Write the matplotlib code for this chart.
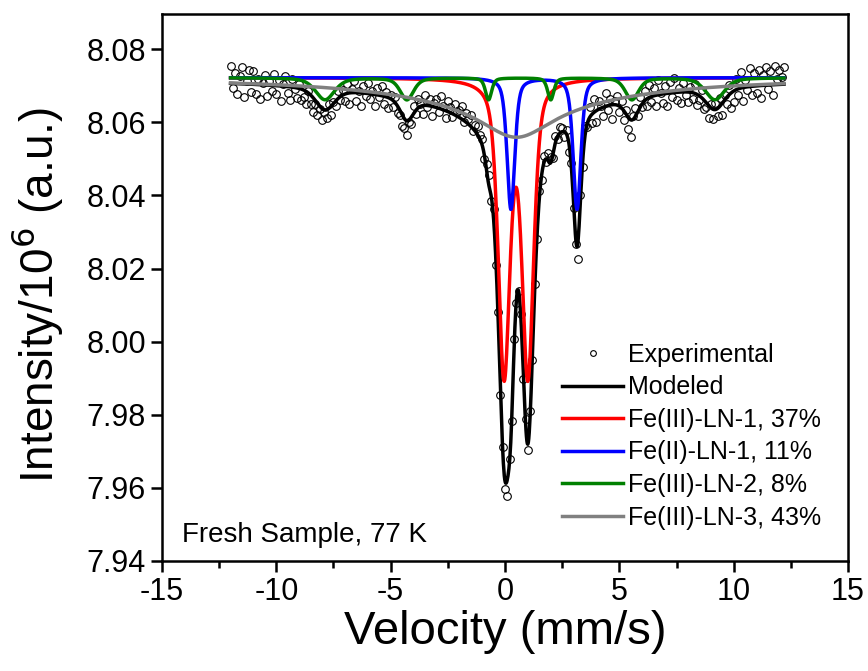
import numpy as np
import matplotlib
matplotlib.use("Agg")
import matplotlib.pyplot as plt

plt.rcParams['font.family'] = ['Liberation Sans', 'DejaVu Sans']
plt.rcParams['axes.unicode_minus'] = False

# experimental spectrum, intensity / 10^6, channels every 0.1 mm/s from -12.0 to 12.2
velocity = np.linspace(-12.0, 12.2, 243)
intensity = [
    8.0754, 8.0694, 8.0736, 8.0677, 8.0727, 8.0750, 8.0670, 8.0714, 8.0744, 8.0684,
    8.0739, 8.0678, 8.0718, 8.0665, 8.0707, 8.0730, 8.0671, 8.0713, 8.0686, 8.0732,
    8.0678, 8.0717, 8.0659, 8.0706, 8.0728, 8.0680, 8.0662, 8.0718, 8.0690, 8.0666,
    8.0705, 8.0661, 8.0670, 8.0650, 8.0686, 8.0650, 8.0628, 8.0649, 8.0620, 8.0637,
    8.0607, 8.0627, 8.0613, 8.0649, 8.0620, 8.0656, 8.0644, 8.0686, 8.0661, 8.0687,
    8.0659, 8.0705, 8.0651, 8.0691, 8.0713, 8.0659, 8.0685, 8.0645, 8.0699, 8.0671,
    8.0707, 8.0663, 8.0685, 8.0644, 8.0693, 8.0669, 8.0698, 8.0651, 8.0682, 8.0639,
    8.0674, 8.0642, 8.0668, 8.0625, 8.0621, 8.0591, 8.0585, 8.0564, 8.0601, 8.0594,
    8.0644, 8.0622, 8.0664, 8.0651, 8.0624, 8.0676, 8.0641, 8.0663, 8.0616, 8.0654,
    8.0665, 8.0627, 8.0671, 8.0644, 8.0612, 8.0657, 8.0641, 8.0615, 8.0650, 8.0629,
    8.0633, 8.0644, 8.0600, 8.0625, 8.0610, 8.0619, 8.0575, 8.0593, 8.0591, 8.0565,
    8.0553, 8.0499, 8.0486, 8.0456, 8.0384, 8.0362, 8.0209, 8.0081, 7.9853, 7.9712,
    7.9598, 7.9577, 7.9680, 7.9784, 8.0006, 8.0106, 8.0139, 8.0076, 7.9898, 7.9788,
    7.9703, 7.9811, 7.9949, 8.0159, 8.0280, 8.0412, 8.0443, 8.0507, 8.0492, 8.0515,
    8.0504, 8.0502, 8.0563, 8.0554, 8.0588, 8.0584, 8.0559, 8.0578, 8.0520, 8.0489,
    8.0365, 8.0266, 8.0225, 8.0402, 8.0478, 8.0589, 8.0588, 8.0643, 8.0597, 8.0663,
    8.0602, 8.0658, 8.0644, 8.0617, 8.0679, 8.0634, 8.0665, 8.0608, 8.0658, 8.0672,
    8.0629, 8.0659, 8.0606, 8.0634, 8.0582, 8.0559, 8.0616, 8.0638, 8.0618, 8.0668,
    8.0641, 8.0686, 8.0644, 8.0703, 8.0655, 8.0694, 8.0644, 8.0715, 8.0681, 8.0652,
    8.0698, 8.0644, 8.0710, 8.0669, 8.0720, 8.0660, 8.0693, 8.0653, 8.0708, 8.0675,
    8.0655, 8.0697, 8.0663, 8.0704, 8.0646, 8.0662, 8.0687, 8.0635, 8.0641, 8.0611,
    8.0650, 8.0610, 8.0652, 8.0618, 8.0666, 8.0620, 8.0675, 8.0650, 8.0703, 8.0640,
    8.0655, 8.0718, 8.0676, 8.0738, 8.0657, 8.0716, 8.0687, 8.0748, 8.0674, 8.0734,
    8.0680, 8.0742, 8.0666, 8.0729, 8.0752, 8.0690, 8.0740, 8.0675, 8.0755, 8.0718,
    8.0744, 8.0724, 8.0752,
]

BASE = 8.0722

# fitted lines: centre (mm/s), depth (x10^6), FWHM (mm/s)
red_pos = [-0.04, 1.00]
red_depth = [0.080, 0.080]
red_fwhm = [0.60, 0.60]

blue_pos = [0.26, 3.15]
blue_depth = [0.036, 0.036]
blue_fwhm = [0.40, 0.40]

green_pos = [-7.87, -4.29, -0.72, 2.00, 5.55, 9.18]
green_depth = [0.006, 0.006, 0.006, 0.006, 0.006, 0.006]
green_fwhm = [1.0, 0.7, 0.32, 0.32, 0.7, 1.0]

gray_pos = [0.5, 0.5]
gray_depth = [0.0098, 0.0065]
gray_fwhm = [3.9, 12.0]


def component(v, pos, depth, fwhm, eta=0.5):
    # pseudo-Voigt lines, eta = lorentzian fraction
    out = np.zeros_like(v)
    for p, d, w in zip(pos, depth, fwhm):
        x = (v - p) / w
        out += d * (eta / (1 + 4 * x ** 2) + (1 - eta) * np.exp(-4 * np.log(2) * x ** 2))
    return out


v = np.linspace(-12.0, 12.2, 1200)
red = component(v, red_pos, red_depth, red_fwhm)
blue = component(v, blue_pos, blue_depth, blue_fwhm)
green = component(v, green_pos, green_depth, green_fwhm)
gray = component(v, gray_pos, gray_depth, gray_fwhm, eta=1.0)
model = BASE - red - blue - green - gray

fig = plt.figure(figsize=(8.68, 6.71), dpi=100)
ax = fig.add_axes([0.1866, 0.164, 0.7904, 0.815])

ax.plot(velocity, intensity, 'o', ms=5.5, mfc='none', mec='black', mew=0.8,
        label='Experimental')
ax.plot(v, model, color='black', lw=2.5, label='Modeled')
ax.plot(v, BASE - red, color='#ff0000', lw=2.5, label='Fe(III)-LN-1, 37%')
ax.plot(v, BASE - blue, color='#0000ff', lw=2.5, label='Fe(II)-LN-1, 11%')
ax.plot(v, BASE - green, color='#008000', lw=2.5, label='Fe(III)-LN-2, 8%')
ax.plot(v, BASE - gray, color='#808080', lw=2.5, label='Fe(III)-LN-3, 43%')

ax.set_xlim(-15, 15)
ax.set_ylim(7.94, 8.0896)
ax.set_xticks(np.arange(-15, 16, 5))
ax.set_xticks(np.arange(-15, 16, 2.5), minor=True)
yt = np.arange(7.94, 8.081, 0.02)
ax.set_yticks(yt)
ax.set_yticklabels(['%.2f' % t for t in yt])
ax.tick_params(labelsize=22, width=1.8, length=8)
ax.tick_params(which='minor', width=1.8, length=5)
ax.tick_params(axis='y', which='minor', left=False)
for s in ax.spines.values():
    s.set_linewidth(1.8)
ax.set_xlabel('Velocity (mm/s)', fontsize=34, labelpad=2)
ax.set_ylabel('Intensity/10$^6$ (a.u.)', fontsize=33)
ax.yaxis.set_label_coords(-0.141, 0.486)
ax.text(0.029, 0.0475, 'Fresh Sample, 77 K', transform=ax.transAxes,
        fontsize=20, va='center')
ax.legend(loc='upper left', bbox_to_anchor=(562 / 868, 1 - 343 / 671),
          bbox_transform=fig.transFigure, frameon=False, fontsize=18,
          handlelength=2.45, handletextpad=0.2, borderpad=0, borderaxespad=0,
          labelspacing=0.34, markerscale=0.75)

fig.savefig('out.png', dpi=100)
